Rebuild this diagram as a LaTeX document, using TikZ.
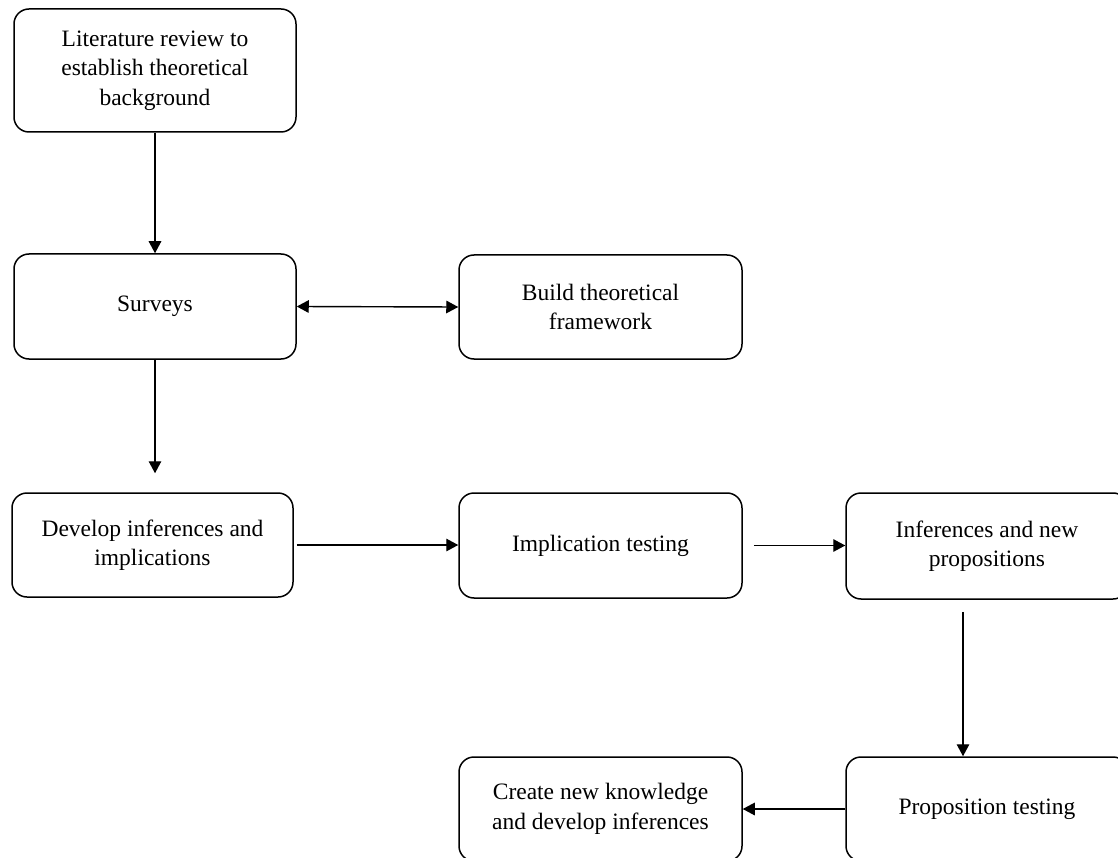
\documentclass[tikz,border=0pt]{standalone}
\usepackage{fontspec}
\setmainfont{Liberation Serif}
\usetikzlibrary{arrows.meta}
\begin{document}
\begin{tikzpicture}[x=1pt,y=-1pt,
  stepbox/.style={draw=black, line width=1.5pt, rounded corners=15pt,
    minimum width=282pt, minimum height=104pt, inner sep=0pt, align=center,
    font=\fontsize{23.5}{29.5}\selectfont},
  arr/.style={draw=black, line width=1.4pt, -{Triangle[length=12pt,width=12.5pt]}},
  darr/.style={draw=black, line width=1.4pt, {Triangle[length=12pt,width=12.5pt]}-{Triangle[length=12pt,width=12.5pt]}}]
\clip (0,0) rectangle (1118,858);
\useasboundingbox (0,0) rectangle (1118,858);

% process steps
\node[stepbox, minimum height=123pt] (b1) at (155,70.5) {Literature review to\\establish theoretical\\background};
\node[stepbox, minimum height=105pt] (b2) at (155,306.5) {Surveys};
\node[stepbox, minimum width=283pt] (b3) at (600.5,307) {Build theoretical\\framework};
\node[stepbox, minimum width=281pt] (b4) at (152.5,545) {Develop inferences and\\implications};
\node[stepbox, minimum width=283pt, minimum height=105pt] (b5) at (600.5,545.5) {Implication testing};
\node[stepbox, minimum height=106pt] (b6) at (987,546) {Inferences and new\\propositions};
\node[stepbox] (b7) at (987,809) {Proposition testing};
\node[stepbox, minimum width=283pt] (b8) at (600.5,809) {Create new knowledge\\and develop inferences};

% connectors
\draw[arr] (b1.south) -- (b2.north);
\draw[arr, shorten >=19pt] (b2.south) -- (b2.south |- b4.north);
\draw[darr] (b2.east) -- (b3.west);
\draw[arr, shorten <=3pt] (b4.east) -- (b4.east -| b5.west);
\draw[arr, shorten <=11pt] (b5.east) -- (b5.east -| b6.west);
\draw[arr, shorten <=12pt] ([xshift=-24pt]b6.south) -- ([xshift=-24pt]b7.north);
\draw[arr] (b7.west) -- (b8.east);
\end{tikzpicture}
\end{document}
